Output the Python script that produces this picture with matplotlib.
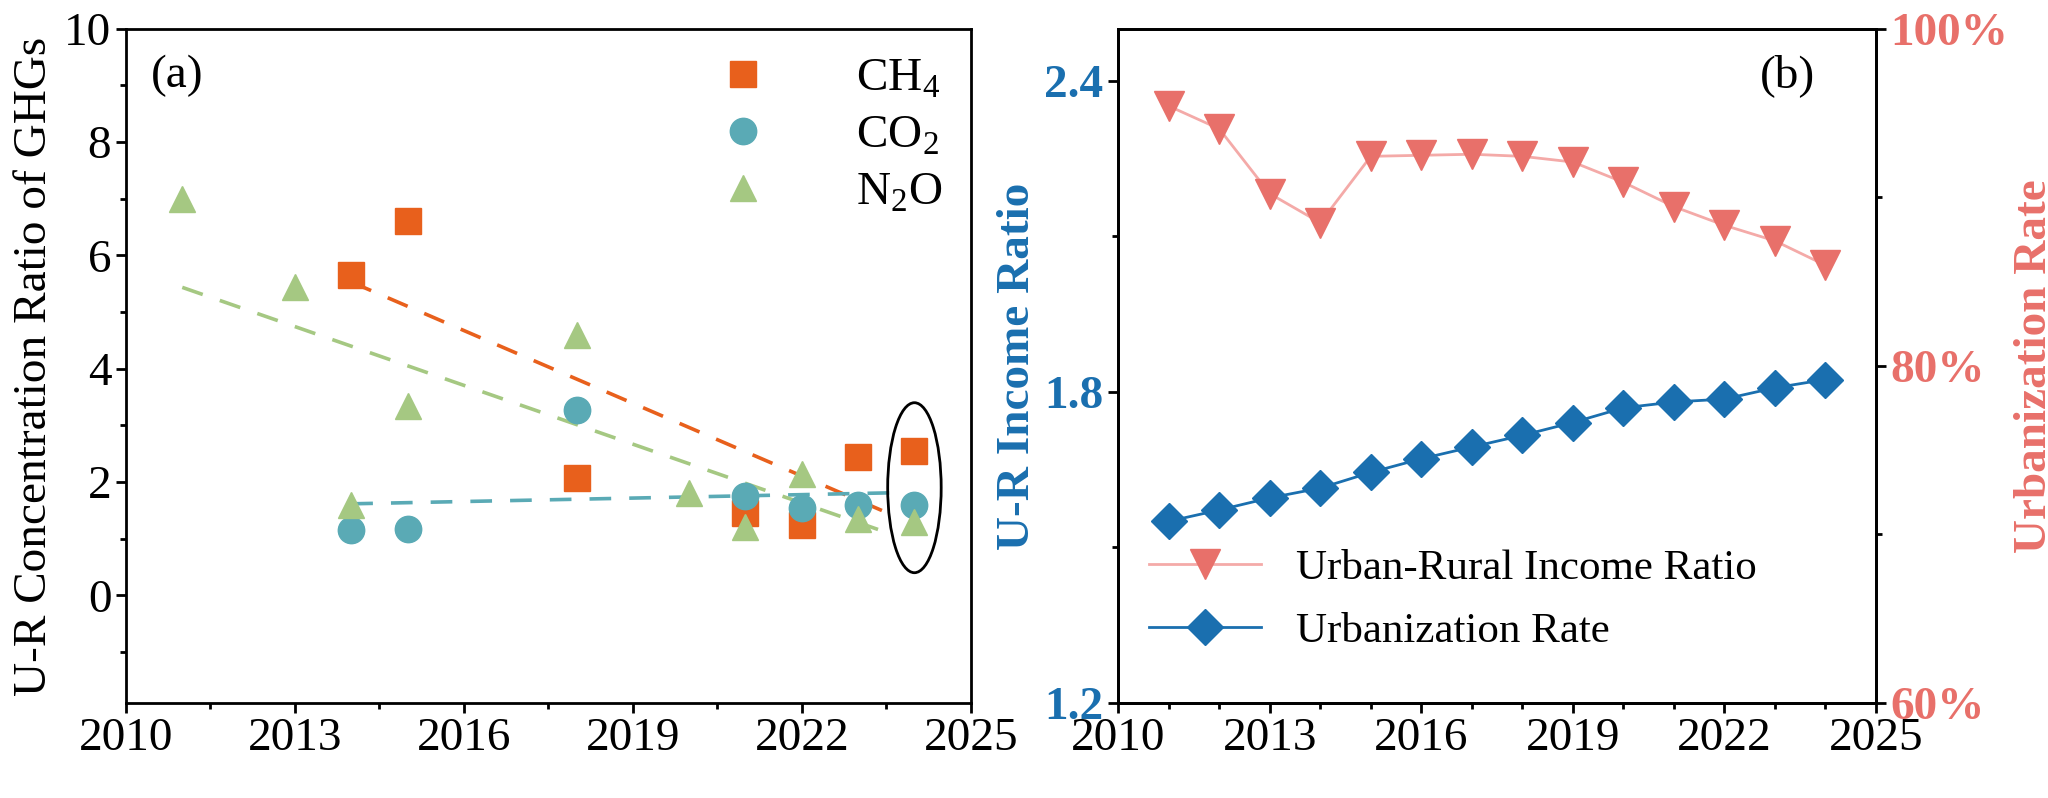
import numpy as np
import matplotlib
matplotlib.use("Agg")
import matplotlib.pyplot as plt
from matplotlib.patches import Ellipse
from matplotlib.ticker import MultipleLocator, FuncFormatter

plt.rcParams['font.family'] = ['Liberation Serif', 'DejaVu Serif']
plt.rcParams['mathtext.fontset'] = 'custom'
plt.rcParams['mathtext.rm'] = 'Liberation Serif'

# panel (a) data
ch4_years = [2014, 2015, 2018, 2021, 2022, 2023, 2024]
ch4_vals = [5.65, 6.6, 2.07, 1.45, 1.25, 2.45, 2.55]
co2_years = [2014, 2015, 2018, 2021, 2022, 2023, 2024]
co2_vals = [1.15, 1.18, 3.27, 1.75, 1.55, 1.6, 1.6]
n2o_years = [2011, 2013, 2014, 2015, 2018, 2020, 2021, 2022, 2023, 2024]
n2o_vals = [7.0, 5.45, 1.6, 3.35, 4.6, 1.8, 1.2, 2.15, 1.35, 1.3]

# panel (b) data
years_b = list(range(2011, 2025))
income_ratio = [2.351, 2.307, 2.182, 2.126, 2.254, 2.256, 2.258, 2.254, 2.243,
                2.204, 2.157, 2.121, 2.091, 2.044]
urban_rate = [70.78, 71.45, 72.17, 72.75, 73.68, 74.49, 75.19, 75.88, 76.64,
              77.51, 77.86, 78.03, 78.70, 79.19]

c_ch4 = '#E8601C'
c_co2 = '#5AAAB5'
c_n2o = '#A5C882'
c_pink = '#E8706A'
c_pinkline = '#F4AAA8'
c_blue = '#1A6FAF'
fs = 34

fig = plt.figure(figsize=(20.48, 7.98), dpi=100)
ax = fig.add_axes([0.0615, 0.119, 0.4125, 0.845])
axb = fig.add_axes([0.546, 0.119, 0.370, 0.845])

# ---- panel a
series = [(ch4_years, ch4_vals, c_ch4, 's', r'CH$_4$'),
          (co2_years, co2_vals, c_co2, 'o', r'CO$_2$'),
          (n2o_years, n2o_vals, c_n2o, '^', r'N$_2$O')]
for xs, ys, c, m, lab in series:
    ax.plot(xs, ys, linestyle='none', marker=m, color=c, markersize=19, label=lab)
    k, b = np.polyfit(xs, ys, 1)
    xx = np.array([min(xs), max(xs) - 0.4])
    ax.plot(xx, k * xx + b, '--', color=c, lw=2.6, dashes=(6, 5), zorder=1)

ax.add_patch(Ellipse((2024, 1.9), 0.95, 3.0, fill=False, ec='black', lw=2))
ax.set_xlim(2010, 2025)
ax.set_ylim(-1.9, 10)
ax.xaxis.set_major_locator(MultipleLocator(3))
ax.xaxis.set_minor_locator(MultipleLocator(1.5))
ax.yaxis.set_major_locator(MultipleLocator(2))
ax.yaxis.set_minor_locator(MultipleLocator(1))
ax.yaxis.set_major_formatter(FuncFormatter(lambda v, p: '' if v < 0 else '%d' % v))
ax.set_ylabel('U-R Concentration Ratio of GHGs', fontsize=fs, labelpad=6)
ax.text(0.03, 0.93, '(a)', transform=ax.transAxes, fontsize=fs, va='center')
ax.legend(loc='upper right', fontsize=fs, frameon=False, handletextpad=1.4,
          borderaxespad=0.2, labelspacing=0.3)

# ---- panel b
axr = axb.twinx()
axb.plot(years_b, income_ratio, color=c_pinkline, lw=2, marker='v', markersize=21,
         markerfacecolor=c_pink, markeredgecolor=c_pink, label='Urban-Rural Income Ratio')
axr.plot(years_b, urban_rate, color=c_blue, lw=2, marker='D', markersize=18,
         label='Urbanization Rate')
axb.set_xlim(2010, 2025)
axb.set_ylim(1.2, 2.5)
axr.set_ylim(60, 100)
axb.xaxis.set_major_locator(MultipleLocator(3))
axb.xaxis.set_minor_locator(MultipleLocator(1))
axb.yaxis.set_major_locator(MultipleLocator(0.6))
axb.yaxis.set_minor_locator(MultipleLocator(0.3))
axr.yaxis.set_major_locator(MultipleLocator(20))
axr.yaxis.set_minor_locator(MultipleLocator(10))
axr.yaxis.set_major_formatter(FuncFormatter(lambda v, p: '%d%%' % v))
axb.set_ylabel('U-R Income Ratio', fontsize=fs, color=c_blue, fontweight='bold')
axr.set_ylabel('Urbanization Rate', fontsize=fs, color=c_pink, fontweight='bold')
axb.text(0.92, 0.93, '(b)', transform=axb.transAxes, fontsize=fs, va='center', ha='right')
h1, l1 = axb.get_legend_handles_labels()
h2, l2 = axr.get_legend_handles_labels()
axb.legend(h1 + h2, l1 + l2, loc='lower left', fontsize=31, frameon=False,
           bbox_to_anchor=(-0.01, 0.02), handlelength=2.6, labelspacing=0.55)

for a in (ax, axb, axr):
    for s in a.spines.values():
        s.set_linewidth(2)
    a.tick_params(axis='both', which='major', direction='out', length=7, width=2, labelsize=fs)
    a.tick_params(axis='both', which='minor', direction='out', length=4, width=2)
for t in axb.get_yticklabels():
    t.set_color(c_blue); t.set_fontweight('bold')
for t in axr.get_yticklabels():
    t.set_color(c_pink); t.set_fontweight('bold')

fig.savefig('out.png', dpi=100)
